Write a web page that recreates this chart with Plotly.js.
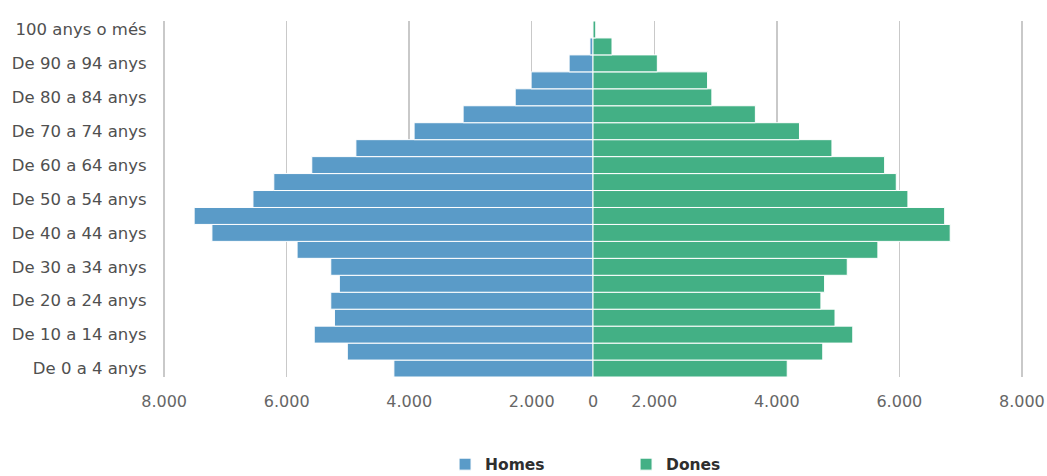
<!DOCTYPE html>
<html>
<head>
<meta charset="utf-8">
<script src="https://cdn.plot.ly/plotly-3.0.1.min.js"></script>
<style>
html,body{margin:0;padding:0;background:#fff;}
#chart{width:1047px;height:476px;}
</style>
</head>
<body>
<div id="chart"></div>
<script>
// Age groups (bottom to top)
const categories = [
  "De 0 a 4 anys","De 5 a 9 anys","De 10 a 14 anys","De 15 a 19 anys",
  "De 20 a 24 anys","De 25 a 29 anys","De 30 a 34 anys","De 35 a 39 anys",
  "De 40 a 44 anys","De 45 a 49 anys","De 50 a 54 anys","De 55 a 59 anys",
  "De 60 a 64 anys","De 65 a 69 anys","De 70 a 74 anys","De 75 a 79 anys",
  "De 80 a 84 anys","De 85 a 89 anys","De 90 a 94 anys","De 95 a 99 anys",
  "100 anys o més"
];
// Men (drawn to the left)
const homes = [3250, 4010, 4550, 4220, 4280, 4140, 4280, 4830, 6220, 6510,
               5550, 5210, 4590, 3870, 2920, 2120, 1270, 1010, 390, 50, 10];
// Women (drawn to the right)
const dones = [3170, 3750, 4240, 3950, 3720, 3780, 4150, 4650, 5830, 5740,
               5140, 4950, 4760, 3900, 3370, 2650, 1940, 1870, 1050, 310, 45];

const shownCategories = ["De 0 a 4 anys","De 10 a 14 anys","De 20 a 24 anys",
  "De 30 a 34 anys","De 40 a 44 anys","De 50 a 54 anys","De 60 a 64 anys",
  "De 70 a 74 anys","De 80 a 84 anys","De 90 a 94 anys","100 anys o més"];

const xTickVals = [-7000,-5000,-3000,-1000,0,1000,3000,5000,7000];
const xTickText = ["8.000","6.000","4.000","2.000","0","2.000","4.000","6.000","8.000"];

const traces = [
  {
    type: "bar", orientation: "h", name: "Homes",
    y: categories, x: homes.map(v => -v),
    marker: {color: "#5a9bc8", line: {color: "#ffffff", width: 1}},
    hoverinfo: "skip"
  },
  {
    type: "bar", orientation: "h", name: "Dones",
    y: categories, x: dones,
    marker: {color: "#43b085", line: {color: "#ffffff", width: 1}},
    hoverinfo: "skip"
  }
];

const layout = {
  width: 1047, height: 476,
  margin: {l: 158, r: 19, t: 21, b: 99, autoexpand: false},
  paper_bgcolor: "#ffffff", plot_bgcolor: "#ffffff",
  barmode: "relative", bargap: 0,
  showlegend: true,
  legend: {
    orientation: "h", x: 0.538, xanchor: "center", y: -0.246, yanchor: "middle",
    font: {family: "DejaVu Sans", size: 15.5, color: "#2e2e2e", weight: 700},
    entrywidth: 136, itemclick: false, borderwidth: 0
  },
  font: {family: "DejaVu Sans", color: "#505050"},
  xaxis: {
    range: [-7100, 7100],
    tickmode: "array", tickvals: xTickVals, ticktext: xTickText,
    showgrid: true, gridcolor: "#c9c9c9", gridwidth: 1.5,
    zeroline: true, zerolinecolor: "#ffffff", zerolinewidth: 3,
    showline: false, ticks: "outside", ticklen: 10, tickcolor: "rgba(0,0,0,0)",
    tickfont: {family: "DejaVu Sans", size: 16, color: "#666666"},
    fixedrange: true
  },
  yaxis: {
    type: "category", categoryorder: "array", categoryarray: categories,
    tickmode: "array", tickvals: shownCategories, ticktext: shownCategories,
    showgrid: false, zeroline: false, showline: false,
    ticks: "outside", ticklen: 7, tickcolor: "rgba(0,0,0,0)",
    tickfont: {family: "DejaVu Sans", size: 16.5, color: "#505050"},
    fixedrange: true
  }
};

Plotly.newPlot("chart", traces, layout, {displayModeBar: false, staticPlot: true});
</script>
</body>
</html>
